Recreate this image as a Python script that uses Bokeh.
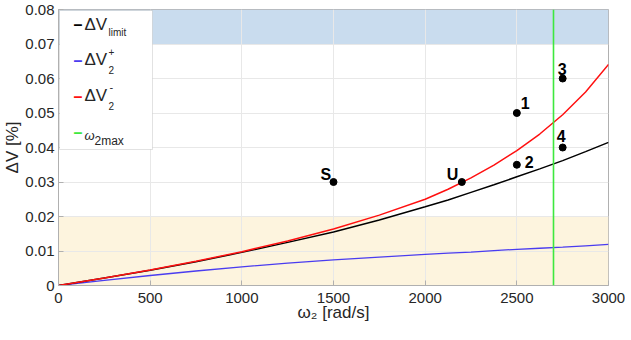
from bokeh.plotting import figure
from bokeh.models import (Label, BoxAnnotation, Span, FixedTicker)
from bokeh.embed import file_html
from bokeh.resources import INLINE

# ---------------- data ----------------
omega = [0, 250, 500, 750, 1000, 1250, 1500, 1750, 2000, 2125, 2250, 2375, 2500,
         2625, 2750, 2875, 3000]
dv_limit = [0, 0.0022, 0.0044, 0.0069, 0.0096, 0.0125, 0.0155, 0.0190, 0.0228, 0.0248,
            0.0270, 0.0292, 0.0315, 0.0338, 0.0362, 0.0388, 0.0415]
dv2_plus = [0, 0.0015, 0.0029, 0.0042, 0.0054, 0.0065, 0.0074, 0.0082, 0.0090, 0.0094,
            0.0097, 0.0101, 0.0105, 0.0108, 0.0111, 0.0115, 0.0119]
dv2_minus = [0, 0.0022, 0.0045, 0.0070, 0.0098, 0.0129, 0.0164, 0.0204, 0.0250, 0.0279,
             0.0312, 0.0349, 0.0391, 0.0439, 0.0495, 0.0561, 0.0641]
omega_2max = 2700

pt_names = ["S", "U", "1", "2", "3", "4"]
pt_x = [1500, 2200, 2500, 2500, 2750, 2750]
pt_y = [0.030, 0.030, 0.050, 0.035, 0.060, 0.040]

band_bottom = [0.0, 0.07]
band_top = [0.02, 0.08]
band_colors = ["#fdf4de", "#c9dcee"]

x_ticks = [0, 500, 1000, 1500, 2000, 2500, 3000]
y_ticks = [0, 0.01, 0.02, 0.03, 0.04, 0.05, 0.06, 0.07, 0.08]
y_tick_labels = ["0", "0.01", "0.02", "0.03", "0.04", "0.05", "0.06", "0.07", "0.08"]

XMAX, YMAX = 3000, 0.08
FONT = "Liberation Sans"

p = figure(frame_width=550, frame_height=276, x_range=(0, XMAX), y_range=(0, YMAX),
           output_backend="svg", toolbar_location=None,
           min_border_left=53, min_border_top=9, min_border_right=17, min_border_bottom=50)
p.background_fill_color = "white"
p.border_fill_color = "white"
p.outline_line_color = "#b0b0b0"

# bands
p.quad(left=[0, 0], right=[XMAX, XMAX], bottom=band_bottom, top=band_top,
       fill_color=band_colors, line_color=None, level="image")

# grid
p.xgrid.grid_line_color = "#e8e8e8"
p.ygrid.grid_line_color = "#e8e8e8"
p.xaxis.ticker = FixedTicker(ticks=x_ticks)
p.yaxis.ticker = FixedTicker(ticks=y_ticks)
p.yaxis.major_label_overrides = {t: l for t, l in zip(y_ticks, y_tick_labels)}

for ax in (p.xaxis, p.yaxis):
    ax.axis_line_color = "#b0b0b0"
    ax.major_tick_line_color = "#b0b0b0"
    ax.major_tick_in = 5
    ax.major_tick_out = 0
    ax.minor_tick_line_color = None
    ax.major_label_text_font = FONT
    ax.major_label_text_font_size = "15px"
    ax.major_label_text_color = "#262626"
    ax.axis_label_text_font = FONT
    ax.axis_label_text_font_size = "17px"
    ax.axis_label_text_font_style = "normal"
    ax.axis_label_text_color = "#262626"

p.xaxis.axis_label = "ω₂ [rad/s]"
p.yaxis.axis_label = "ΔV [%]"
p.xaxis.major_label_standoff = 7
p.xaxis.axis_label_standoff = -3
p.yaxis.major_label_standoff = 4
p.yaxis.axis_label_standoff = 0

# curves
p.line(omega, dv2_plus, line_color="#4a3cf0", line_width=1.3)
p.line(omega, dv_limit, line_color="black", line_width=1.5)
p.line(omega, dv2_minus, line_color="#ff1010", line_width=1.5)

p.add_layout(Span(location=omega_2max, dimension="height", line_color="#3ee83e", line_width=1.6))

# points
p.scatter(pt_x, pt_y, size=7, color="black")
# (dx, dy) screen pixels from the point to the label's left / vertical centre, dy positive = up
pt_off = {"S": (-13, 8), "U": (-15, 8), "1": (4, 10), "2": (8, 3), "3": (-5, 10), "4": (-6, 12)}
for n, x, y in zip(pt_names, pt_x, pt_y):
    dx, dy = pt_off[n]
    p.add_layout(Label(x=x, y=y, text=n, x_offset=dx, y_offset=dy, text_font=FONT,
                       text_font_size="16px", text_font_style="bold", text_color="black",
                       text_baseline="middle"))

# ---------------- legend (manual, page pixel layout) ----------------
def X(px):
    return (px - 61) / 550 * XMAX

def Y(py):
    return (285 - py) / 276 * YMAX

p.add_layout(BoxAnnotation(left=X(62), right=X(155), top=Y(10), bottom=Y(149),
                           fill_color="white", fill_alpha=1.0, line_color="#a0a0a0",
                           line_width=1, level="overlay"))

def lab(text, px, py, size, color="#262626", style="normal"):
    p.add_layout(Label(x=X(px), y=Y(py), text=text, text_font=FONT, text_font_size=size,
                       text_color=color, text_font_style=style, text_baseline="middle",
                       level="overlay"))

entries = [("black", 24), ("#4a3cf0", 60), ("#ff1010", 96), ("#3ee83e", 132)]
for color, mid in entries:
    lab("–", 76, mid, "16px", color=color, style="bold")

lab("ΔV", 87, 24, "17px")
lab("limit", 111, 32, "10px")
lab("ΔV", 87, 59, "17px")
lab("+", 111, 51, "10px")
lab("2", 111, 69, "10px")
lab("ΔV", 87, 95, "17px")
lab("-", 112, 86, "11px")
lab("2", 111, 105, "10px")
lab("ω", 87, 135, "13px", style="italic")
lab("2max", 97, 140, "12px")

open("out.html", "w").write(file_html(p, INLINE))
